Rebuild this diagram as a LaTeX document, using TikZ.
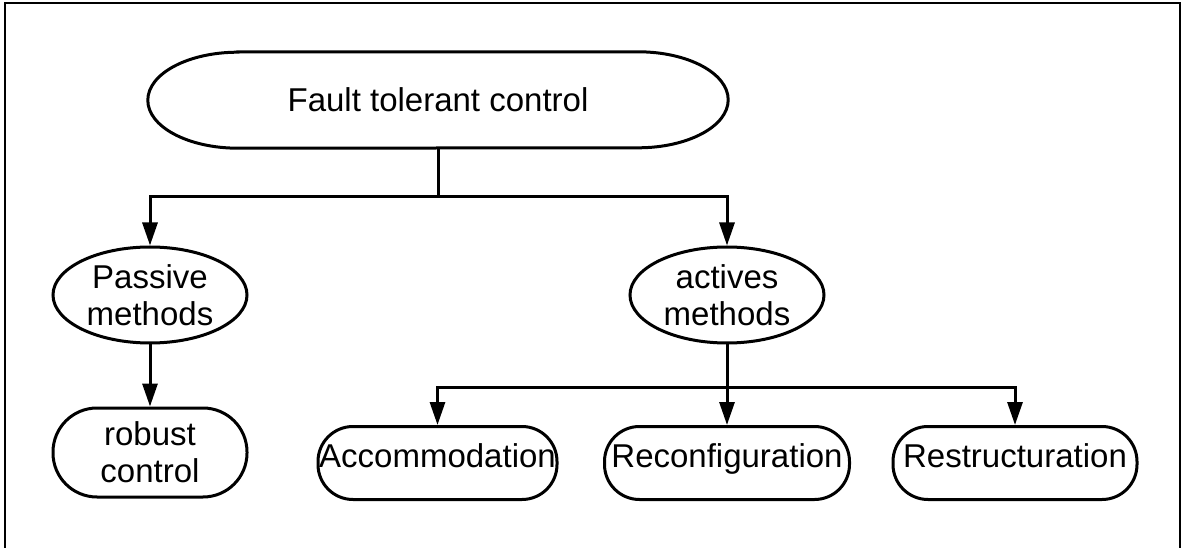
\documentclass[tikz,border=0pt]{standalone}
\usepackage{fontspec}
\setmainfont{Liberation Sans}
\usetikzlibrary{shapes.geometric,arrows.meta}
\begin{document}
\begin{tikzpicture}[x=1pt,y=1pt,
  txt/.style={font=\fontsize{33pt}{37pt}\selectfont, align=center},
  ellnode/.style={txt, shape=ellipse, draw, line width=3pt, inner sep=0pt,
    minimum width=194pt, minimum height=96pt},
  stadium/.style={txt, shape=rectangle, draw, line width=3pt, inner sep=0pt, rounded corners=#1},
  lowbox/.style={stadium=35pt, minimum height=73pt, text height=24pt, text depth=15pt},
  conn/.style={line width=3pt},
  arr/.style={line width=3pt, -{Triangle[length=23pt,width=15pt]}},
  frame/.style={line width=2.5pt}
]
\useasboundingbox (0,0) rectangle (1184,547);
\fill[white] (0,0) rectangle (1184,547);
\draw[frame] (5,-2) -- (5,544) -- (1180,544) -- (1180,-2);

% top node
\node[txt, shape=rectangle, inner sep=0pt, minimum width=580pt, minimum height=96pt] (ftc) at (438,447) {Fault tolerant control};
\draw[line width=3pt] ([xshift=90pt]ftc.north west) -- ([xshift=-90pt]ftc.north east)
  arc[start angle=90, end angle=-90, x radius=90pt, y radius=48pt]
  -- ([xshift=90pt]ftc.south west)
  arc[start angle=270, end angle=90, x radius=90pt, y radius=48pt] -- cycle;

\node[ellnode] (pm) at (150,252) {Passive\\methods};
\node[ellnode] (am) at (727,252) {actives\\methods};
\node[stadium=44pt, minimum width=194pt, minimum height=89pt] (rc) at (150,94.5) {robust\\control};
\node[lowbox, minimum width=239pt] (acc) at (437.5,84) {Accommodation};
\node[lowbox, minimum width=245pt] (rec) at (727,84) {Reconfiguration};
\node[lowbox, minimum width=244pt] (res) at (1015,84) {Restructuration};

\coordinate (j1) at (438,350);
\coordinate (j2) at (727,160);
\draw[conn] (ftc.south) -- (j1);
\draw[arr] (j1) -| (pm.north);
\draw[arr] (j1) -| (am.north);
\draw[arr] (pm.south) -- (rc.north);
\draw[conn] (am.south) -- (j2);
\draw[arr] (j2) -- (rec.north);
\draw[arr] (j2) -| (acc.north);
\draw[arr] (j2) -| (res.north);
\end{tikzpicture}
\end{document}
